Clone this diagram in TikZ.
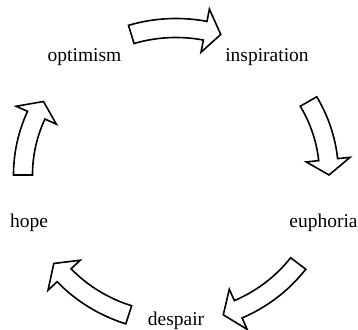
\documentclass[tikz,border=0pt]{standalone}
\usepackage{fontspec}
\setmainfont{Liberation Serif}
\usepackage{tikz}
\usetikzlibrary{calc}
\tikzset{
    phase/.style={anchor=base, inner sep=0pt, font=\fontsize{19.5}{23}\selectfont},
    cyclearr/.style={draw=black, line width=1.6pt, fill=white, line join=miter},
}
% hollow curved arrow on the ring, from tail angle #1 to tip angle #2 (clockwise)
\newcommand{\cyclearrow}[2]{%
    \pgfmathsetmacro{\headang}{#2+6}
    \begin{scope}[shift={(176,154)}]
    \draw[cyclearr] (#1:162.5 and 156.5) arc[start angle=#1, end angle=\headang, x radius=162.5, y radius=156.5]
        -- (\headang:175 and 169) -- (#2:153 and 147) -- (\headang:131 and 125) -- (\headang:143.5 and 137.5)
        arc[start angle=\headang, end angle=#1, x radius=143.5, y radius=137.5] -- cycle;
    \end{scope}
}

\begin{document}
\begin{tikzpicture}[x=1pt, y=1pt]
\useasboundingbox (0,0) rectangle (358,329);
\coordinate (hub) at (176,154);

\node[phase] (optimism) at (84.5,267) {optimism};
\node[phase] (inspiration) at (267,267) {inspiration};
\node[phase] (euphoria) at (323.5,101) {euphoria};
\node[phase] (despair) at (176,4) {despair};
\node[phase] (hope) at (29,101) {hope};

\cyclearrow{107}{73}
\cyclearrow{30}{0}
\cyclearrow{-37}{-72}
\cyclearrow{-108}{-143}
\cyclearrow{180}{150}
\end{tikzpicture}
\end{document}
